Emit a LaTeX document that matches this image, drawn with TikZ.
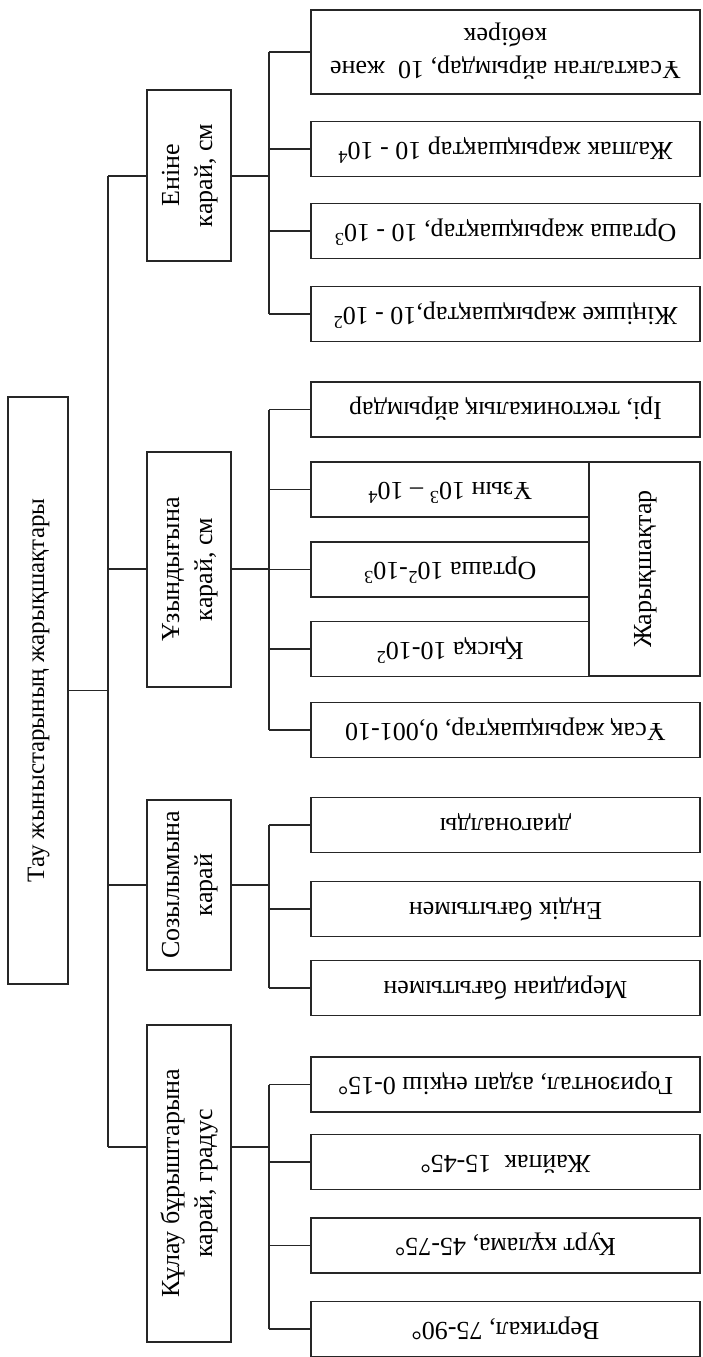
\documentclass[tikz,border=0pt]{standalone}
\usepackage{fontspec}
\usepackage{graphicx}
\setmainfont{Liberation Serif}
\newcommand{\rotL}[1]{\rotatebox{90}{\begin{tabular}{@{}c@{}}#1\end{tabular}}}
\newcommand{\rotU}[1]{\rotatebox{180}{\begin{tabular}{@{}c@{}}#1\end{tabular}}}
\tikzset{
  box/.style={draw=black!85, line width=1.2pt, inner sep=0pt, font=\fontsize{26}{33}\selectfont},
  leaf/.style={box, minimum width=389pt, minimum height=55pt},
  leafn/.style={box, minimum width=278pt, minimum height=55pt},
  cat/.style={box, minimum width=84pt},
  conn/.style={draw=black!85, line width=1.2pt}
}
\begin{document}
\begin{tikzpicture}[x=1pt, y=-1pt]
\useasboundingbox (0,0) rectangle (703,1357);
% root
\node[box, minimum width=60pt, minimum height=587pt, font=\fontsize{25}{30}\selectfont] (root) at (38,690.5) {\rotL{Тау жыныстарының жарықшақтары}};
% categories
\node[cat, minimum height=171pt] (c1) at (189,175.5) {\rotL{Еніне\\карай, см}};
\node[cat, minimum height=235pt] (c2) at (189,569.5) {\rotL{Ұзындығына\\карай, см}};
\node[cat, minimum height=170pt] (c3) at (189,885) {\rotL{Созылымына\\карай}};
\node[cat, minimum height=317pt] (c4) at (189,1183.5) {\rotL{Кұлау бұрыштарына\\карай, градус}};
% leaves
\node[leaf, minimum height=84pt] (l1) at (505.5,52) {\rotU{Ұсакталған айрымдар, 10~~және\\көбірек}};
\node[leaf] (l2) at (505.5,149) {\rotU{Жалпак жарықшақтар 10 - 10\textsuperscript{4}}};
\node[leaf] (l3) at (505.5,231) {\rotU{Орташа жарықшақтар, 10 - 10\textsuperscript{3}}};
\node[leaf] (l4) at (505.5,314) {\rotU{Жіңішке жарықшақтар,10 - 10\textsuperscript{2}}};
\node[leaf] (l5) at (505.5,409.5) {\rotU{Ірі, тектоникалық айрымдар}};
\node[leafn] (l6) at (450,489.5) {\rotU{Ұзын 10\textsuperscript{3} – 10\textsuperscript{4}}};
\node[leafn] (l7) at (450,569.5) {\rotU{Орташа 10\textsuperscript{2}-10\textsuperscript{3}}};
\node[leafn] (l8) at (450,649) {\rotU{Қысқа 10-10\textsuperscript{2}}};
\node[box, minimum width=111pt, minimum height=214pt] (jar) at (644.5,569) {\rotL{Жарықшақтар}};
\node[leaf] (l9) at (505.5,730) {\rotU{Ұсақ жарықшақтар, 0,001-10}};
\node[leaf] (l10) at (505.5,825) {\rotU{диагоналды}};
\node[leaf] (l11) at (505.5,909) {\rotU{Ендік бағытымен}};
\node[leaf] (l12) at (505.5,988) {\rotU{Меридиан бағытымен}};
\node[leaf] (l13) at (505.5,1084.5) {\rotU{Горизонтал, аздап еңкіш 0-15°}};
\node[leaf] (l14) at (505.5,1162) {\rotU{Жайпак~~15-45°}};
\node[leaf] (l15) at (505.5,1245.5) {\rotU{Курт кұлама, 45-75°}};
\node[leaf] (l16) at (505.5,1329) {\rotU{Вертикал, 75-90°}};
% trunk
\coordinate (t1) at (108,176);
\coordinate (t2) at (108,569);
\coordinate (t3) at (108,885);
\coordinate (t4) at (108,1147);
\draw[conn] (t1) -- (t4);
\draw[conn] (root.east) -- (root.east -| t1);
\draw[conn] (t1) -- (t1 -| c1.west);
\draw[conn] (t2) -- (t2 -| c2.west);
\draw[conn] (t3) -- (t3 -| c3.west);
\draw[conn] (t4) -- (t4 -| c4.west);
% buses
\coordinate (b1) at (269,176);
\coordinate (b2) at (269,569);
\coordinate (b3) at (269,885);
\coordinate (b4) at (269,1147);
\draw[conn] (b1 -| c1.east) -- (b1);
\draw[conn] (b2 -| c2.east) -- (b2);
\draw[conn] (b3 -| c3.east) -- (b3);
\draw[conn] (b4 -| c4.east) -- (b4);
\draw[conn] (l1.west -| b1) -- (l4.west -| b1);
\draw[conn] (l5.west -| b2) -- (l9.west -| b2);
\draw[conn] (l10.west -| b3) -- (l12.west -| b3);
\draw[conn] (l13.west -| b4) -- (l16.west -| b4);
\foreach \n/\b in {l1/b1,l2/b1,l3/b1,l4/b1,l5/b2,l6/b2,l7/b2,l8/b2,l9/b2,l10/b3,l11/b3,l12/b3,l13/b4,l14/b4,l15/b4,l16/b4}
  \draw[conn] (\n.west -| \b) -- (\n.west);
\end{tikzpicture}
\end{document}
